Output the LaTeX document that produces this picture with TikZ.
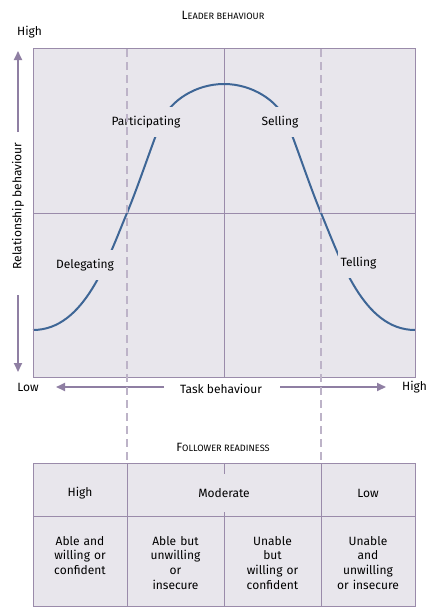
\documentclass[tikz,border=0pt]{standalone}
\usepackage{fontspec}
\setmainfont{Fira Sans}
\usetikzlibrary{arrows.meta}
\definecolor{boxfill}{HTML}{E8E6EC}
\definecolor{frame}{HTML}{9A8BAA}
\definecolor{dashc}{HTML}{BDB3C8}
\definecolor{curvec}{HTML}{3E6696}
\definecolor{arrowc}{HTML}{8F7FA3}
\tikzset{
  lbl/.style={font=\fontsize{12}{14}\selectfont, inner sep=0pt},
  gaplbl/.style={lbl, fill=boxfill, inner xsep=2pt, inner ysep=9pt},
  frameline/.style={draw=frame, line width=1pt},
  axisarrow/.style={draw=arrowc, line width=2pt, -{Triangle[length=9pt,width=8pt]}},
  dashline/.style={draw=dashc, line width=2pt, dash pattern=on 8pt off 5pt},
  bellcurve/.style={draw=curvec, line width=2pt},
  cell/.style={lbl, align=center, text width=90pt, font=\fontsize{12}{14.7}\selectfont},
  headsc/.style={inner sep=0pt}
}
\begin{document}
\begin{tikzpicture}[x=1pt,y=-1pt]
\useasboundingbox (0,0) rectangle (443,608);
% titles
\node[headsc] (lead) at (223,15) {\fontsize{12}{14}\selectfont L\fontsize{9.2}{14}\selectfont EADER BEHAVIOUR};
\node[headsc] (foll) at (223,447) {\fontsize{12}{14}\selectfont F\fontsize{9.2}{14}\selectfont OLLOWER READINESS};
% main box
\path[fill=boxfill] (33,48) rectangle (415,377);
\coordinate (ctop) at (224,48);
\coordinate (cbot) at (224,377);
\coordinate (cleft) at (33,213);
\coordinate (cright) at (415,213);
\draw[frameline] (ctop) -- (cbot);
\draw[frameline] (cleft) -- (cright);
% curve
\draw[bellcurve] (33,330) .. controls (85,330) and (108,258) .. (127,213)
  .. controls (138.4,186) and (155,135.5) .. (162,120)
  .. controls (170.4,101.4) and (195,84) .. (224,84)
  .. controls (253,84) and (277.6,101.4) .. (286,120)
  .. controls (293,135.5) and (309.6,186) .. (321,213)
  .. controls (340,258) and (363,330) .. (415,330);
% labels on curve
\node[gaplbl] (deleg) at (85,265) {Delegating};
\node[gaplbl] (partic) at (146,122) {Participating};
\node[gaplbl] (sell) at (280,122) {Selling};
\node[gaplbl, inner xsep=3pt] (tell) at (358.5,263) {Telling};
\draw[frameline] (33,48) rectangle (415,377);
% axes
\node[lbl] (hightop) at (29.5,32) {High};
\node[lbl] (lowl) at (28,387) {Low};
\node[lbl] (highr) at (414.5,387) {High};
\node[lbl] (task) at (221,389) {Task behaviour};
\node[lbl, rotate=90] (rel) at (18,206) {Relationship behaviour};
\coordinate (vup0) at (18,132);
\coordinate (vup1) at (18,51);
\coordinate (vdn0) at (18,295);
\coordinate (vdn1) at (18,372);
\coordinate (hl0) at (164,387);
\coordinate (hl1) at (56,387);
\coordinate (hr0) at (280,387);
\coordinate (hr1) at (386,387);
\draw[axisarrow] (vup0) -- (vup1);
\draw[axisarrow] (vdn0) -- (vdn1);
\draw[axisarrow] (hl0) -- (hl1);
\draw[axisarrow] (hr0) -- (hr1);
% dashed guides
\coordinate (d1a) at (127,49);
\coordinate (d1b) at (127,463);
\coordinate (d2a) at (320.5,49);
\coordinate (d2b) at (320.5,463);
\draw[dashline] (d1a) -- (d1b);
\draw[dashline] (d2a) -- (d2b);
% table
\path[fill=boxfill] (33,463) rectangle (415,606);
\draw[frameline] (224,463) -- (224,606);
\node[lbl, fill=boxfill, inner xsep=3pt, inner ysep=14pt] (mod) at (224,493) {Moderate};
\draw[frameline] (33,463) rectangle (415,606);
\draw[frameline] (33,516) -- (415,516);
\draw[frameline] (127,463) -- (127,606);
\draw[frameline] (321,463) -- (321,606);
\node[lbl] (thigh) at (80,493) {High};
\node[lbl] (tlow) at (368,493) {Low};
\node[cell, anchor=north] (c1) at (80,536) {Able and\\willing or\\confident};
\node[cell, anchor=north] (c2) at (175.5,536) {Able but\\unwilling\\or\\insecure};
\node[cell, anchor=north] (c3) at (272.5,536) {Unable\\but\\willing or\\confident};
\node[cell, anchor=north] (c4) at (368,536) {Unable\\and\\unwilling\\or insecure};
\end{tikzpicture}
\end{document}
